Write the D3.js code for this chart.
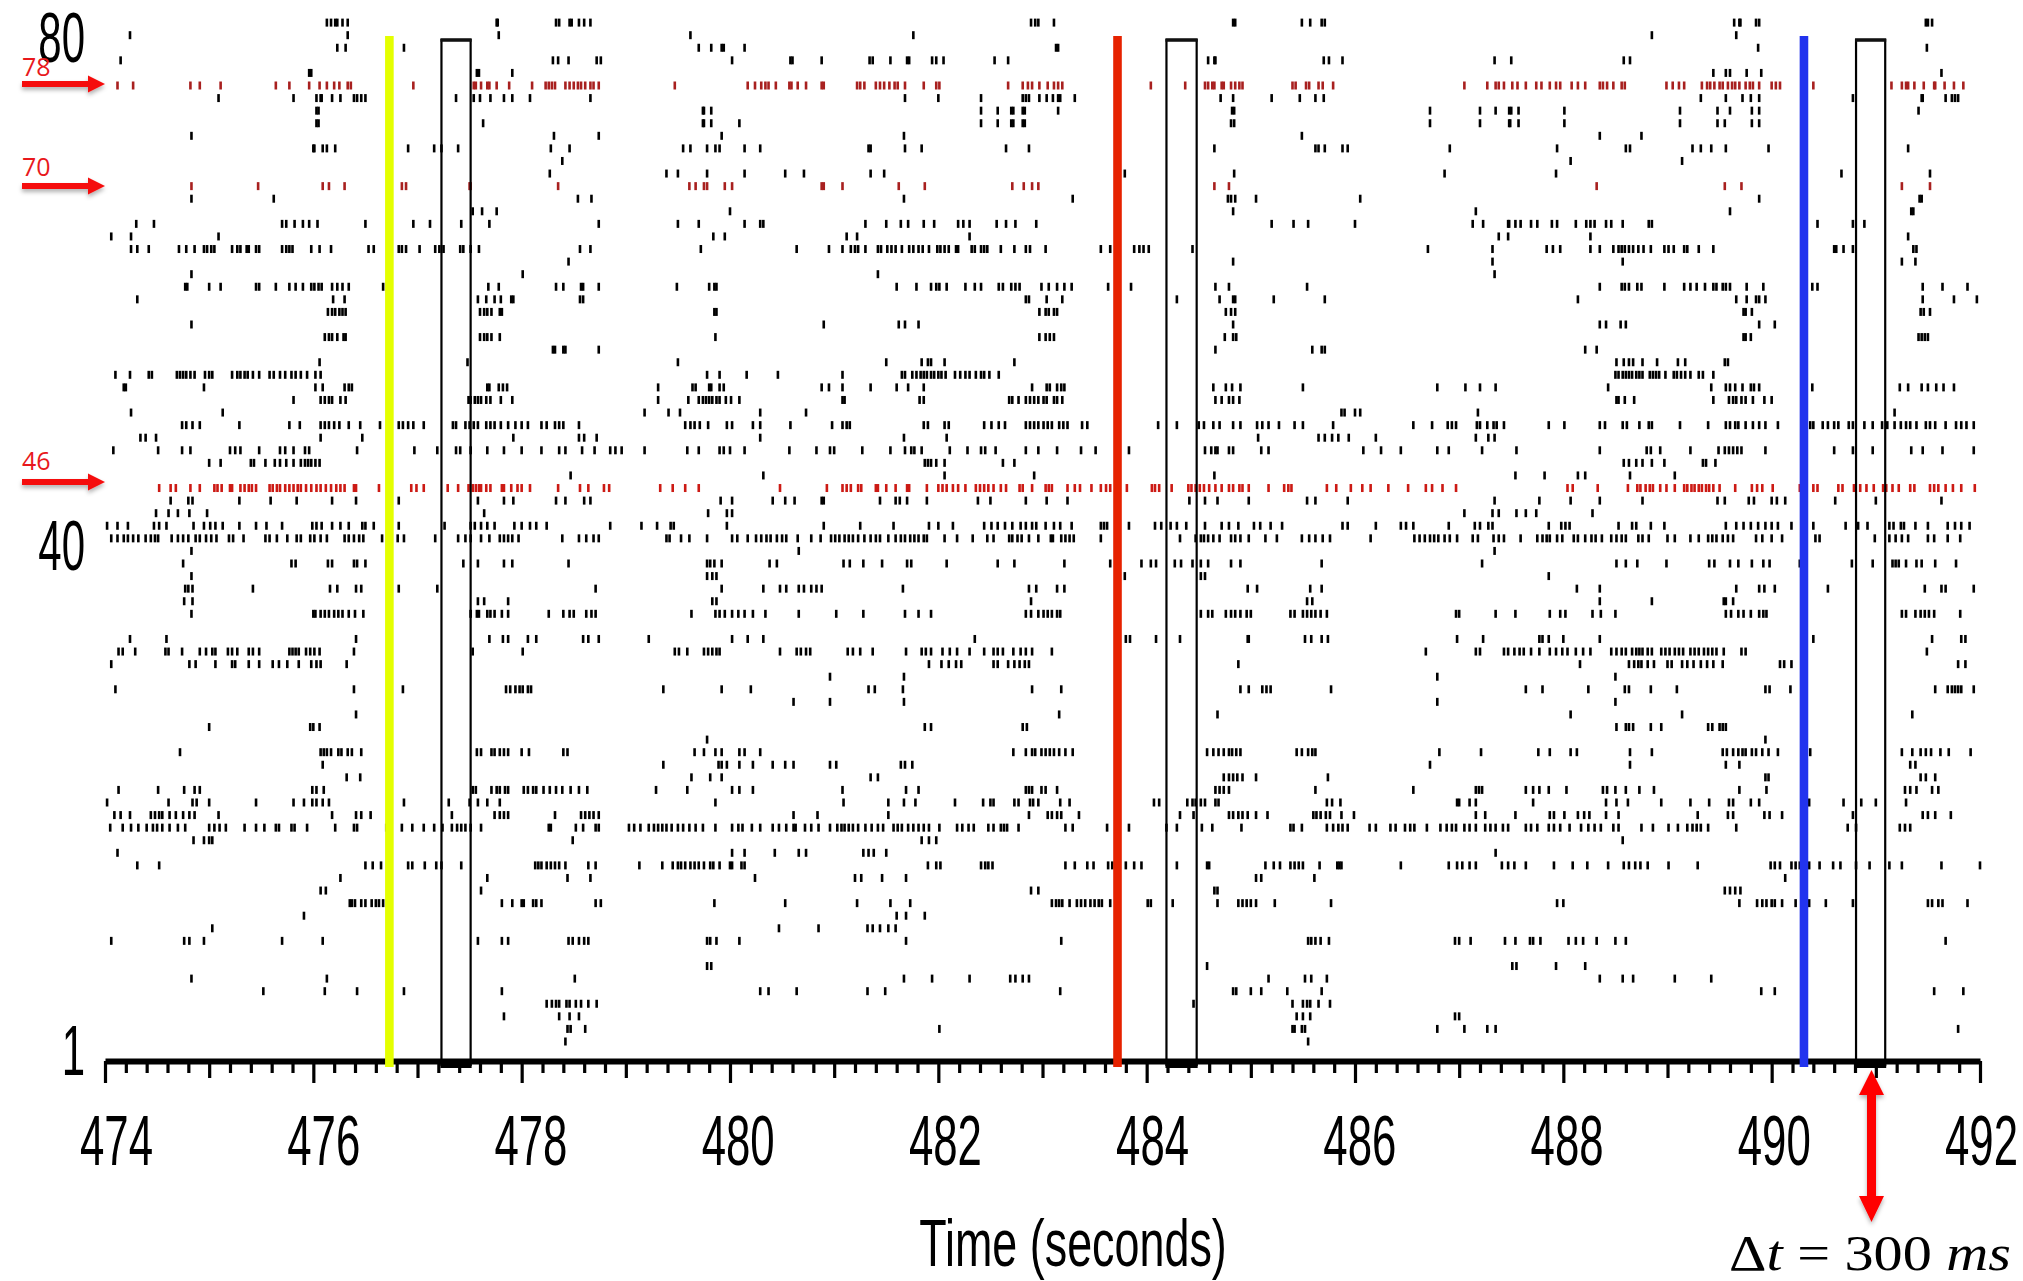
<!DOCTYPE html>
<html>
<head>
<meta charset="utf-8">
<script src="https://cdn.jsdelivr.net/npm/d3@7"></script>
<style>
  html, body { margin: 0; padding: 0; background: #fff; }
  svg { display: block; }
</style>
</head>
<body>
<div id="chart"></div>
<script>
// spike times in seconds, one list per channel
const row83 = [476.13,476.17,476.21,476.23,476.28,476.33,477.76,477.77,478.33,478.36,478.46,478.48,478.55,478.6,478.66,482.89,482.93,482.96,483.11,484.83,484.85,485.49,485.57,485.68,485.71,489.64,489.69,489.7,489.85,489.88,491.48,491.5,491.54];
const row82 = [474.24,476.33,477.78,479.62,481.76,488.85,489.66];
const row81 = [476.23,476.31,476.87,479.7,479.82,479.92,479.94,480.14,483.13,483.15,489.87,491.49];
const row80 = [474.15,478.3,478.35,478.45,478.72,478.76,480.02,480.58,480.6,480.88,481.34,481.37,481.54,481.7,481.72,481.94,481.98,482.05,482.54,482.67,484.59,484.65,484.66,485.7,485.75,485.88,487.34,487.5,488.58,488.64];
const row79 = [475.96,475.98,477.57,477.59,477.91,489.44,489.56,489.6,489.76,489.9,491.63];
const row78 = [474.12,474.27,474.82,474.91,475.11,475.64,475.77,475.96,476.06,476.13,476.2,476.25,476.33,476.36,476.96,477.54,477.56,477.61,477.67,477.69,477.76,477.88,478.1,478.23,478.26,478.29,478.32,478.42,478.46,478.5,478.54,478.57,478.61,478.66,478.69,478.74,479.47,480.17,480.24,480.3,480.34,480.37,480.44,480.57,480.59,480.65,480.73,480.88,480.9,481.22,481.25,481.29,481.4,481.44,481.48,481.53,481.58,481.61,481.68,481.86,481.98,482.01,482.67,482.81,482.86,482.9,482.97,483.05,483.11,483.15,483.19,484.04,484.37,484.56,484.59,484.63,484.65,484.72,484.74,484.81,484.85,484.89,484.92,485.4,485.43,485.53,485.56,485.65,485.69,485.79,487.05,487.27,487.35,487.38,487.43,487.51,487.56,487.64,487.74,487.79,487.87,487.93,487.97,488.08,488.14,488.21,488.35,488.38,488.42,488.48,488.56,488.59,488.99,489.05,489.11,489.16,489.33,489.38,489.41,489.45,489.5,489.53,489.58,489.62,489.65,489.69,489.75,489.79,489.82,489.88,490,490.04,490.08,490.4,491.15,491.25,491.29,491.31,491.37,491.46,491.56,491.57,491.66,491.75,491.84];
const row77 = [475.09,475.81,476.03,476.07,476.08,476.18,476.26,476.39,476.42,476.46,476.5,477.37,477.54,477.6,477.7,477.83,477.91,478.08,478.66,481.68,482,482.41,482.81,482.84,482.87,482.97,483.04,483.1,483.15,483.17,483.31,484.71,484.83,485.2,485.47,485.62,485.7,489.32,489.56,489.72,489.8,489.88,490.78,491.44,491.45,491.67,491.73,491.76,491.79];
const row76 = [476.03,476.05,479.74,479.75,479.82,482.41,482.57,482.7,482.72,482.81,482.83,483.15,484.82,484.84,486.72,487.2,487.35,487.48,487.5,487.57,488.01,489.12,489.48,489.6,489.81,489.88,491.41];
const row75 = [476.03,476.05,477.63,479.74,479.75,479.82,480.09,482.41,482.57,482.7,482.72,482.81,482.83,484.81,484.84,486.72,487.2,487.48,487.49,487.57,488.01,489.12,489.48,489.55,489.81,489.88];
const row74 = [474.83,478.31,478.74,479.92,481.67,485.49,488.35,488.75];
const row73 = [476,476.01,476.09,476.13,476.21,476.91,477.16,477.23,477.39,478.28,478.46,479.55,479.62,479.78,479.86,479.9,480.14,480.29,481.33,481.35,481.68,481.84,482.65,482.87,484.65,485.62,485.65,485.71,485.88,485.93,486.91,487.94,488.6,488.64,489.24,489.32,489.42,489.56,489.97,491.31];
const row72 = [478.39,488.07,489.14];
const row71 = [478.27,479.39,479.5,479.78,480.14,480.53,480.71,481.35,481.48,483.79,484.84,486.86,487.93,490.67,491.52];
const row70 = [474.83,475.47,476.09,476.15,476.3,476.85,476.89,477.5,477.51,478.35,479.61,479.67,479.75,479.78,479.95,480.02,480.88,480.9,481.08,481.62,481.87,482.71,482.82,482.9,482.96,484.65,484.79,488.32,489.55,489.71,491.25,491.52];
const row69 = [474.83,475.62,478.54,478.67,481.67,483.29,484.78,484.81,484.85,485.05,486.05,489.88,491.42,491.44];
const row68 = [477.53,477.62,477.76,480,484.83,487.16,489.6,491.34,491.36];
const row67 = [474.3,474.47,475.7,475.74,475.82,475.9,475.96,476.04,476.5,476.96,477.12,477.42,477.69,478.74,479.5,479.7,480.14,480.29,480.32,481.3,481.5,481.64,481.71,481.86,481.96,482.19,482.24,482.3,482.56,482.65,482.74,482.94,485.2,485.41,485.55,486,487.13,487.23,487.47,487.48,487.54,487.59,487.69,487.75,487.89,487.94,488.12,488.22,488.26,488.3,488.41,488.46,488.57,488.82,488.85,490.44,490.78,490.89];
const row66 = [474.06,474.25,475.09,479.84,479.95,481.12,481.22,482.3,487.38,487.47,488.26,491.31];
const row65 = [474.25,474.31,474.42,474.71,474.78,474.86,474.95,474.98,475.02,475.05,475.22,475.27,475.3,475.36,475.38,475.45,475.48,475.7,475.74,475.77,475.8,475.98,476.06,476.17,476.53,476.58,476.82,476.85,476.89,477.02,477.17,477.21,477.25,477.41,477.44,477.51,477.59,478.56,478.66,479.72,480.64,480.95,481.08,481.16,481.2,481.23,481.3,481.42,481.45,481.51,481.55,481.59,481.65,481.72,481.76,481.81,481.85,481.91,481.99,482.02,482.06,482.1,482.17,482.19,482.32,482.35,482.41,482.44,482.47,482.6,482.73,482.84,482.88,483.03,483.56,483.65,483.88,483.93,483.97,484.02,484.44,486.7,487.32,487.84,487.9,487.97,488.26,488.35,488.48,488.53,488.56,488.59,488.63,488.67,488.72,488.77,488.84,488.97,489.01,489.06,489.16,489.19,489.3,489.44,490.6,490.62,490.69,490.78,491.36,491.39];
const row64 = [478.45,484.83,487.32,488.57,491.25,491.38];
const row63 = [474.83,478.01,481.42,487.34];
const row62 = [474.77,474.79,475,475.11,475.45,475.48,475.64,475.77,475.83,475.9,475.98,476.01,476.05,476.08,476.18,476.23,476.28,476.34,476.67,477.68,477.78,478.33,478.4,478.57,478.59,478.74,479.49,479.8,479.85,479.87,481.6,481.79,481.93,481.98,482.01,482.08,482.26,482.35,482.41,482.58,482.62,482.7,482.74,482.78,482.99,483.06,483.14,483.21,483.28,483.63,483.85,484.66,484.79,485.54,488.35,488.56,488.59,488.63,488.71,488.75,488.97,489.16,489.22,489.28,489.36,489.44,489.47,489.53,489.56,489.6,489.76,489.92,490.39,490.44,491.45,491.64,491.88];
const row61 = [474.31,476.19,476.3,477.58,477.66,477.74,477.8,477.9,477.92,478.56,478.59,482.84,482.87,483.04,483.19,484.29,484.7,484.83,484.85,485.22,485.71,488.14,489.66,489.76,489.85,489.88,489.94,491.45,491.75,491.97];
const row60 = [476.14,476.18,476.21,476.25,476.28,476.31,477.6,477.64,477.67,477.71,477.79,477.81,479.85,479.87,482.97,483.03,483.06,483.11,483.14,484.76,484.81,484.85,489.73,489.75,489.81,491.43,491.46,491.52];
const row59 = [474.83,480.9,481.62,481.68,481.81,484.83,488.35,488.41,488.55,488.6,489.88,490.03];
const row58 = [476.11,476.15,476.18,476.23,476.29,476.31,477.6,477.64,477.67,477.71,477.79,479.86,482.97,483.03,483.07,483.11,484.75,484.83,484.86,489.73,489.75,489.8,491.41,491.44,491.47,491.5];
const row57 = [478.3,478.32,478.4,478.42,478.74,484.66,485.59,485.68,485.71,488.21,488.32];
const row56 = [476.06,477.48,479.5,481.5,481.84,481.9,481.93,482.06,482.73,488.51,488.58,488.63,488.67,488.76,488.9,489.1,489.17,489.55,489.58];
const row55 = [474.1,474.24,474.42,474.45,474.69,474.72,474.75,474.78,474.82,474.86,474.96,475,475.03,475.22,475.27,475.3,475.34,475.37,475.42,475.48,475.58,475.62,475.68,475.73,475.79,475.83,475.88,475.94,476.02,476.07,479.78,479.9,480.16,480.46,481.08,481.65,481.68,481.75,481.79,481.83,481.86,481.89,481.93,481.96,482,482.03,482.07,482.16,482.21,482.26,482.3,482.36,482.41,482.44,482.49,482.58,488.5,488.53,488.57,488.6,488.63,488.66,488.7,488.73,488.76,488.83,488.86,488.89,488.92,488.98,489.06,489.09,489.13,489.17,489.22,489.3,489.34,489.44];
const row54 = [474.18,474.2,474.95,476.02,476.09,476.3,476.34,476.37,477.67,477.69,477.78,477.82,477.86,479.31,479.64,479.67,479.8,479.82,479.9,479.94,480.88,480.95,481.08,481.35,481.6,481.71,481.86,482.9,483.04,483.07,483.14,483.18,483.21,484.64,484.76,484.82,484.9,485.5,486.79,487.06,487.2,487.35,488.43,489.42,489.56,489.6,489.65,489.72,489.8,489.83,489.88,490.39,491.23,491.31,491.44,491.5,491.58,491.65,491.75];
const row53 = [475.81,476.07,476.11,476.15,476.18,476.26,476.31,477.49,477.51,477.55,477.58,477.61,477.66,477.7,477.8,477.91,479.31,479.6,479.7,479.74,479.77,479.8,479.83,479.87,479.9,479.96,480.01,480.09,481.08,481.1,481.82,481.86,482.68,482.71,482.77,482.84,482.88,482.92,482.96,483.01,483.04,483.11,483.14,483.19,484.66,484.72,484.79,484.83,484.89,488.51,488.53,488.59,488.68,489.44,489.59,489.63,489.66,489.71,489.75,489.82,489.93,490];
const row52 = [474.25,475.13,479.18,479.41,479.52,480.29,480.73,485.87,485.9,486,486.05,487.18,491.18];
const row51 = [474.74,474.78,474.84,474.91,475.29,475.77,475.87,476.07,476.11,476.15,476.2,476.25,476.34,476.45,476.64,476.82,476.86,476.91,476.96,477.06,477.34,477.37,477.46,477.5,477.54,477.58,477.66,477.7,477.74,477.8,477.87,477.94,478,478.06,478.19,478.24,478.32,478.36,478.4,478.55,479.57,479.62,479.66,479.71,479.79,479.97,480.02,480.22,480.29,480.58,480.98,481.08,481.12,481.15,481.86,481.9,482.06,482.1,482.44,482.51,482.58,482.64,482.84,482.88,482.92,482.96,483.01,483.05,483.09,483.16,483.2,483.24,483.38,483.43,484.11,484.29,484.5,484.55,484.64,484.7,484.83,484.9,485.06,485.11,485.17,485.27,485.42,485.5,485.79,486.56,486.74,486.89,486.93,486.97,487.17,487.2,487.27,487.33,487.36,487.43,487.86,488.01,488.35,488.4,488.57,488.61,488.73,488.82,488.85,489.12,489.39,489.56,489.6,489.65,489.68,489.75,489.82,489.88,489.94,490.06,490.37,490.4,490.49,490.54,490.6,490.64,490.74,490.78,490.89,490.97,491.06,491.11,491.18,491.24,491.29,491.33,491.39,491.48,491.52,491.57,491.67,491.77,491.82,491.87,491.94];
const row50 = [474.34,474.39,474.49,476.07,476.47,477.92,478.55,478.6,478.72,480.29,481.67,482.08,485.07,485.65,485.71,485.78,485.84,485.94,486.2,487.16,487.28,487.34];
const row49 = [474.08,474.51,474.74,474.82,475.2,475.25,475.3,475.48,475.68,475.73,475.81,475.92,475.96,476.42,476.97,477.19,477.37,477.41,477.51,477.67,477.83,478,478.19,478.36,478.42,478.58,478.7,478.85,478.9,478.96,479.18,479.59,479.7,479.9,479.94,480,480.14,480.57,480.83,480.96,481,481.27,481.54,481.68,481.74,481.77,481.84,482.11,482.28,482.41,482.45,482.55,482.84,482.96,483.14,483.37,483.51,483.83,484.56,484.62,484.66,484.68,484.79,484.83,485.1,485.17,486.08,486.25,486.44,486.79,486.9,487.22,487.55,488.35,488.8,488.84,488.93,489.22,489.49,489.55,489.59,489.63,489.67,489.71,489.94,490.6,490.78,490.97,491.34,491.45,491.64,491.94];
const row48 = [475,475.11,475.4,475.43,475.54,475.63,475.68,475.74,475.81,475.88,475.92,475.95,475.98,476.02,476.06,481.87,481.9,481.93,481.98,482.06,482.62,482.73,488.58,488.63,488.7,488.76,488.85,488.97,489.34,489.37,489.46];
const row47 = [478.47,480.32,482.06,482.92,484.65,487.54,487.82,488.14,488.21,488.64,489.07];
const row46 = [474.52,474.63,474.68,474.82,474.91,475.05,475.08,475.12,475.2,475.22,475.3,475.34,475.38,475.41,475.45,475.58,475.61,475.65,475.68,475.73,475.77,475.81,475.85,475.88,475.93,475.98,476.03,476.07,476.12,476.17,476.22,476.26,476.3,476.39,476.41,476.63,476.94,476.99,477.06,477.29,477.39,477.49,477.53,477.56,477.59,477.61,477.66,477.7,477.81,477.83,477.9,477.96,478,478.08,478.35,478.56,478.64,478.79,478.84,479.33,479.45,479.57,479.7,480.48,480.93,481.08,481.12,481.16,481.23,481.26,481.4,481.42,481.5,481.59,481.7,481.72,481.89,482,482.04,482.08,482.14,482.19,482.26,482.36,482.4,482.44,482.48,482.53,482.6,482.65,482.78,482.81,482.9,483.03,483.06,483.09,483.24,483.31,483.36,483.47,483.56,483.61,483.65,483.81,484.05,484.08,484.12,484.24,484.4,484.43,484.47,484.51,484.55,484.6,484.66,484.72,484.79,484.83,484.89,484.92,484.98,485.17,485.32,485.36,485.39,485.73,485.82,485.96,486.07,486.15,486.32,486.51,486.68,486.74,486.84,486.97,488.04,488.09,488.33,488.62,488.71,488.74,488.79,488.83,488.86,488.93,488.99,489.07,489.16,489.19,489.23,489.26,489.3,489.33,489.37,489.4,489.44,489.5,489.65,489.81,489.86,489.91,490.01,490.27,490.32,490.4,490.44,490.64,490.68,490.79,490.85,490.91,490.98,491.07,491.1,491.16,491.22,491.33,491.37,491.52,491.56,491.6,491.67,491.74,491.82,491.95];
const row45 = [474.63,474.8,474.84,475.29,475.59,475.84,476.18,476.41,476.82,477.58,477.83,477.92,478.33,478.42,478.6,478.66,479.91,480.02,480.41,480.53,480.62,480.88,480.9,481.44,481.59,481.63,481.7,481.89,482.38,482.5,482.84,483.04,483.24,484.41,484.56,484.68,484.98,485.54,485.62,485.93,487.34,487.77,488.07,488.35,488.76,489.48,489.55,489.78,489.83,490,490.05,490.13,490.61,491,491.63];
const row44 = [474.49,474.61,474.7,474.81,474.98,477.64,479.79,479.97,480.02,487.05,487.32,487.38,487.55,487.64,487.74,488.28];
const row43 = [474.02,474.12,474.22,474.47,474.52,474.59,474.85,474.95,475.01,475.06,475.13,475.29,475.45,475.55,475.7,475.99,476.03,476.08,476.18,476.26,476.34,476.47,476.5,476.58,476.82,477.26,477.51,477.55,477.61,477.67,477.74,477.93,478,478.08,478.14,478.24,478.85,479.15,479.3,479.43,479.46,479.97,480.9,481.25,481.57,481.91,482,482.14,482.44,482.51,482.57,482.64,482.71,482.79,482.84,482.9,482.94,483.03,483.11,483.17,483.28,483.56,483.59,483.62,483.83,484.08,484.14,484.23,484.29,484.38,484.56,484.72,484.79,484.88,485.03,485.09,485.19,485.3,485.88,485.93,486.2,486.44,486.49,486.56,486.9,487.15,487.2,487.28,487.32,487.86,487.98,488.02,488.06,488.53,488.66,488.7,488.84,488.97,489.56,489.66,489.73,489.8,489.87,489.94,490,490.06,490.19,490.4,490.71,490.83,490.92,491.13,491.17,491.24,491.27,491.38,491.5,491.69,491.76,491.82,491.9];
const row42 = [474.06,474.12,474.18,474.22,474.27,474.32,474.39,474.44,474.48,474.51,474.64,474.7,474.75,474.8,474.87,474.91,474.97,475.02,475.07,475.19,475.23,475.33,475.54,475.58,475.65,475.75,475.84,475.88,475.97,476.01,476.07,476.13,476.3,476.34,476.39,476.44,476.48,476.66,476.81,476.87,477.17,477.39,477.46,477.51,477.61,477.69,477.79,477.83,477.87,477.91,477.97,478.39,478.55,478.62,478.69,478.74,479.39,479.42,479.53,479.61,479.78,480.02,480.07,480.17,480.25,480.3,480.35,480.39,480.45,480.5,480.54,480.65,480.78,480.87,480.97,481.01,481.05,481.1,481.14,481.18,481.23,481.29,481.35,481.4,481.44,481.52,481.59,481.64,481.68,481.73,481.77,481.81,481.86,481.89,482.06,482.18,482.33,482.47,482.53,482.68,482.71,482.76,482.8,482.87,482.96,483.08,483.1,483.18,483.22,483.26,483.3,483.56,484.32,484.47,484.52,484.55,484.59,484.64,484.7,484.81,484.85,484.9,484.98,485.14,485.25,485.49,485.56,485.62,485.69,485.76,486.15,486.57,486.62,486.67,486.72,486.76,486.8,486.86,486.91,486.98,487.13,487.18,487.33,487.38,487.43,487.59,487.75,487.8,487.84,487.87,487.94,487.99,488.1,488.14,488.21,488.27,488.31,488.37,488.46,488.51,488.56,488.6,488.72,488.76,488.82,489,489.07,489.22,489.3,489.39,489.43,489.47,489.53,489.58,489.63,489.85,489.91,490,490.1,490.42,490.46,490.99,491.13,491.19,491.25,491.31,491.5,491.56,491.69,491.81];
const row41 = [474.83,480.66,487.34];
const row40 = [474.75,475.79,475.83,476.14,476.18,476.39,476.42,476.5,477.44,477.58,477.83,477.91,478.45,479.78,479.81,479.85,479.92,480.38,480.45,481.09,481.15,481.28,481.46,481.7,481.74,482.08,482.57,482.73,483.21,483.65,483.95,484.04,484.09,484.27,484.33,484.44,484.52,484.59,484.81,484.9,485.68,487.22,488.51,488.6,488.71,488.99,489.4,489.45,489.6,489.68,489.81,489.92,489.98,490.27,490.77,490.97,491.16,491.19,491.22,491.29,491.39,491.44,491.57,491.77];
const row39 = [474.83,479.78,479.83,479.87,483.79,484.52,484.56,487.86];
const row38 = [474.77,474.8,474.84,475.42,476.16,476.23,476.41,476.46,476.82,477.19,478.71,479.92,480.32,480.48,480.54,480.66,480.71,480.78,480.83,480.88,481.66,482.87,482.94,483.14,483.21,484.97,485.06,485.57,485.68,488.13,488.35,489.66,489.88,489.93,490.03,490.54,491.47,491.63,491.67,491.94];
const row37 = [474.76,474.84,477.58,477.64,477.87,479.83,479.87,482.89,485.54,485.59,488.35,488.85,489.54,489.56,489.63];
const row36 = [474.83,476,476.02,476.07,476.11,476.15,476.2,476.24,476.28,476.34,476.4,476.48,477.51,477.57,477.59,477.67,477.7,477.74,477.81,477.87,478.26,478.4,478.46,478.5,478.62,478.67,478.71,479.63,479.86,479.9,479.95,480.02,480.08,480.14,480.22,480.34,480.66,481.02,481.28,481.68,481.81,481.93,482.84,482.89,482.96,483.01,483.05,483.09,483.14,483.17,484.52,484.59,484.63,484.76,484.81,484.85,484.9,484.96,485,485.38,485.42,485.5,485.54,485.58,485.62,485.67,485.73,486.97,487,487.35,487.54,487.87,487.97,488.02,488.28,488.36,488.5,489.56,489.61,489.68,489.73,489.8,489.88,489.92,489.95,491.25,491.29,491.38,491.43,491.47,491.51,491.56,491.81];
const row34 = [474.24,474.59,476.41,477.69,477.82,477.87,478.06,478.14,478.59,478.64,478.74,479.22,480.02,480.17,480.32,482.35,483.8,483.84,484.09,484.32,484.97,484.98,485.52,485.58,485.68,485.74,486.98,487.23,487.77,487.8,487.86,488,488.35,490.4,491.54,491.82,491.86];
const row33 = [474.13,474.17,474.29,474.58,474.61,474.74,474.91,474.97,475.03,475.06,475.18,475.22,475.27,475.38,475.42,475.48,475.77,475.8,475.83,475.86,475.93,475.97,476.01,476.06,476.39,477.53,478.01,479.47,479.51,479.59,479.75,479.79,479.83,479.87,479.9,480.48,480.64,480.68,480.73,480.77,481.13,481.18,481.25,481.37,481.69,481.84,481.88,481.93,482.04,482.11,482.18,482.3,482.44,482.53,482.57,482.62,482.72,482.79,482.84,482.9,483.09,486.68,487.16,487.2,487.43,487.47,487.53,487.58,487.62,487.69,487.77,487.87,487.93,487.99,488.04,488.12,488.19,488.26,488.46,488.51,488.56,488.6,488.66,488.7,488.73,488.76,488.81,488.85,488.94,488.98,489.02,489.07,489.11,489.15,489.22,489.26,489.3,489.35,489.39,489.43,489.47,489.54,489.71,489.75,491.49];
const row32 = [474.06,474.81,474.87,475.06,475.22,475.25,475.38,475.48,475.61,475.67,475.75,475.86,475.98,476.03,476.07,476.32,481.91,482.03,482.1,482.17,482.22,482.53,482.57,482.67,482.73,482.78,482.83,482.87,484.88,488.16,488.63,488.68,488.72,488.75,488.81,488.87,489,489.04,489.14,489.19,489.25,489.32,489.38,489.44,489.53,490.08,490.12,490.19,491.79,491.86];
const row31 = [480.96,481.67,486.79,488.5];
const row30 = [474.1,476.39,476.86,477.85,477.89,477.94,477.98,478.01,478.06,478.09,479.36,479.92,480.2,481.33,481.39,481.66,482.9,483.18,484.9,484.98,485.11,485.15,485.19,485.77,487.64,487.8,488.24,488.59,488.63,488.84,489.09,489.94,489.98,490.18,491.57,491.69,491.73,491.76,491.79,491.82,491.94];
const row29 = [480.61,480.96,481.67,486.79,488.5];
const row28 = [476.41,483.16,484.68,488.07,489.14,491.35];
const row27 = [475,475.97,476,476.06,481.87,481.93,482.81,482.85,488.51,488.6,488.63,488.67,488.84,488.94,489.39,489.43,489.5,489.53,489.56];
const row26 = [479.78,489.94];
const row25 = [474.72,476.07,476.1,476.13,476.17,476.24,476.27,476.33,476.37,476.46,477.57,477.61,477.71,477.74,477.79,477.83,477.87,478,478.07,478.4,478.44,479.66,479.75,479.86,479.92,480.09,480.14,480.29,482.72,482.84,482.9,482.93,482.99,483.03,483.07,483.11,483.16,483.22,483.29,484.58,484.64,484.69,484.74,484.79,484.82,484.86,484.9,485.44,485.49,485.55,485.59,485.62,486.81,487.21,487.76,487.87,488.07,488.13,488.64,488.85,489.53,489.57,489.63,489.68,489.72,489.75,489.81,489.85,489.91,489.97,490.06,490.37,491.25,491.35,491.43,491.48,491.53,491.62,491.7,491.91];
const row24 = [476.09,479.36,479.89,479.92,479.97,480.09,480.22,480.41,480.53,480.61,480.96,481.02,481.64,481.68,481.75,486.72,488.64,489.56,489.69,491.33,491.38];
const row23 = [476.32,476.45,479.63,479.81,479.92,481.35,481.42,484.74,484.79,484.83,484.87,484.92,485.05,485.74,489.94,489.97,491.43,491.48,491.57];
const row22 = [474.13,474.51,474.76,474.86,474.91,475.99,476.03,476.1,477.53,477.56,477.71,477.76,477.79,477.84,477.87,478.02,478.06,478.11,478.14,478.21,478.27,478.33,478.39,478.47,478.55,478.63,479.29,479.59,480.02,480.09,480.22,481.08,481.69,481.81,482.84,482.87,482.9,482.99,483.03,483.14,484.66,484.7,484.74,484.79,485.62,486.56,487.16,487.19,487.22,487.64,487.71,487.77,487.86,488.03,488.38,488.42,488.5,488.6,488.73,488.87,489.69,489.95,491.28,491.33,491.39,491.54,491.6];
const row21 = [474.02,474.61,474.84,474.88,475,475.45,475.81,475.91,475.99,476.03,476.09,476.15,476.87,477.3,477.5,477.58,477.67,477.79,479.86,481.09,481.52,481.67,481.78,482.16,482.43,482.5,482.53,482.73,482.77,482.88,482.91,482.96,483.17,483.26,484.07,484.12,484.39,484.44,484.47,484.52,484.56,484.66,484.69,485.73,485.78,485.86,486.98,487,487.1,487.16,487.71,488.41,488.51,488.62,488.94,489.22,489.4,489.59,489.63,489.8,489.88,490.36,490.69,490.86,491,491.29];
const row20 = [474.09,474.15,474.24,474.44,474.48,474.52,474.55,474.62,474.68,474.75,474.81,474.86,475.09,476.18,476.41,476.46,476.55,477.33,477.74,477.79,477.83,477.87,478.32,478.57,478.61,478.65,478.69,478.74,480.61,480.84,481.52,482.87,483.05,483.09,483.14,483.18,483.35,484.32,484.45,484.79,484.83,484.88,484.92,484.97,485.05,485.16,485.6,485.63,485.67,485.72,485.76,485.87,485.99,487.16,487.25,487.54,487.87,487.91,488.01,488.14,488.2,488.25,488.41,488.53,489.29,489.58,489.63,489.93,489.98,490.1,490.78,491.45,491.5,491.57,491.72];
const row19 = [474.05,474.17,474.25,474.32,474.4,474.46,474.5,474.55,474.62,474.7,474.77,475,475.05,475.1,475.16,475.34,475.45,475.53,475.64,475.67,475.79,475.82,475.94,476.21,476.39,476.42,476.7,476.85,476.95,477.06,477.16,477.24,477.33,477.38,477.42,477.46,477.51,477.61,478.26,478.28,478.52,478.59,478.71,478.74,479.03,479.08,479.14,479.22,479.27,479.31,479.35,479.39,479.44,479.5,479.55,479.61,479.67,479.74,479.86,480.02,480.08,480.12,480.21,480.29,480.41,480.47,480.54,480.61,480.63,480.72,480.78,480.85,480.96,481.03,481.07,481.1,481.14,481.18,481.23,481.3,481.36,481.42,481.47,481.57,481.61,481.65,481.71,481.76,481.81,481.86,481.91,482.01,482.18,482.23,482.29,482.34,482.48,482.53,482.6,482.63,482.66,482.77,483.22,483.29,483.62,483.83,484.19,484.29,484.53,484.63,484.91,485.38,485.41,485.49,485.73,485.79,485.84,485.88,485.93,486.14,486.2,486.34,486.39,486.48,486.53,486.57,486.69,486.82,486.88,486.93,486.97,487.05,487.1,487.16,487.25,487.3,487.35,487.42,487.47,487.64,487.69,487.75,487.86,487.91,487.97,488.06,488.17,488.24,488.3,488.36,488.48,488.53,488.75,488.86,489.01,489.1,489.19,489.24,489.28,489.32,489.39,489.66,490.73,490.81,491.23,491.28,491.33];
const row18 = [474.85,474.95,475,475.03,478.49,481.84,481.91,481.98,488.57];
const row17 = [474.12,480.02,480.14,480.43,480.66,480.73,481.28,481.33,481.38,481.5,487.35];
const row16 = [474.31,474.52,476.5,476.57,476.65,476.91,476.95,477.07,477.18,477.23,477.42,478.13,478.16,478.19,478.24,478.28,478.32,478.36,478.42,478.64,478.71,479.13,479.35,479.45,479.5,479.53,479.57,479.62,479.66,479.7,479.75,479.81,479.84,479.9,480,480.02,480.11,480.14,481.9,481.98,482.02,482.41,482.45,482.48,482.52,483.22,483.31,483.43,483.49,483.63,483.67,483.8,483.88,483.95,484.29,484.58,484.6,485.14,485.22,485.28,485.38,485.42,485.46,485.5,485.66,485.83,485.85,485.87,486.44,486.9,486.98,487.03,487.1,487.16,487.41,487.47,487.53,487.64,487.91,488.09,488.23,488.43,488.58,488.63,488.69,488.74,488.81,489.01,489.29,489.99,490.03,490.08,490.19,490.23,490.27,490.32,490.36,490.46,490.59,490.66,490.81,490.94,491.13,491.25,491.63,492];
const row15 = [476.26,477.67,478.44,478.66,480.24,481.2,481.26,481.46,481.69,485.05,485.1,485.61,490.13];
const row14 = [476.07,476.12,477.61,482.89,482.96,484.65,484.68,489.55,489.6,489.65,489.7];
const row13 = [476.35,476.37,476.4,476.46,476.5,476.56,476.6,476.63,476.67,477.81,477.91,478,478.02,478.11,478.14,478.19,478.71,478.76,479.85,480.53,481.22,481.54,481.73,483.09,483.13,483.16,483.19,483.26,483.33,483.37,483.41,483.46,483.5,483.54,483.57,483.65,484.01,484.04,484.25,484.68,484.88,484.92,484.96,485,485.05,485.23,485.77,487.94,488,489.69,489.86,489.91,489.95,490,490.03,490.1,490.23,490.29,490.36,490.52,490.78,491.5,491.54,491.6,491.64,491.88];
const row12 = [475.91,481.6,481.69,481.87];
const row11 = [475.03,480.47,480.85,481.32,481.37,481.44,481.52,481.59];
const row10 = [474.06,474.76,474.81,474.95,475.7,476.09,477.58,477.81,477.87,478.45,478.49,478.55,478.6,478.64,479.78,479.81,479.87,480.09,481.69,483.18,485.55,485.58,485.62,485.67,485.75,486.96,487,487.11,487.44,487.54,487.68,487.71,487.78,488.05,488.12,488.19,488.32,488.5,488.6,491.67];
const row8 = [479.78,479.82,484.58,487.51,487.55,487.93,488.21];
const row7 = [474.83,476.13,478.51,481.67,481.94,482.3,482.69,482.74,482.81,482.87,485.17,485.52,485.58,485.73,488.35,488.57,488.67,489.07,489.42];
const row6 = [475.52,476.11,476.42,476.87,477.81,480.29,480.37,480.64,481.32,481.49,483.17,484.83,484.86,485,485.1,485.35,485.68,489.9,490.03,491.56,491.84];
const row5 = [478.24,478.29,478.33,478.36,478.43,478.46,478.52,478.57,478.64,478.72,484.45,485.4,485.5,485.54,485.57,485.65,485.76];
const row4 = [477.83,478.36,478.46,478.55,485.44,485.5,485.57,486.96,487];
const row3 = [478.44,478.47,478.61,482.01,485.4,485.42,485.49,485.52,486.79,487.05,487.27,487.35,491.79];
const row2 = [478.42,485.55];

const rowNames = [83,82,81,80,79,78,77,76,75,74,73,72,71,70,69,68,67,66,65,64,63,62,61,60,59,58,57,56,55,54,53,52,51,50,49,48,47,46,45,44,43,42,41,40,39,38,37,36,34,33,32,31,30,29,28,27,26,25,24,23,22,21,20,19,18,17,16,15,14,13,12,11,10,8,7,6,5,4,3,2];
const rowSpikes = [row83,row82,row81,row80,row79,row78,row77,row76,row75,row74,row73,row72,row71,row70,row69,row68,row67,row66,row65,row64,row63,row62,row61,row60,row59,row58,row57,row56,row55,row54,row53,row52,row51,row50,row49,row48,row47,row46,row45,row44,row43,row42,row41,row40,row39,row38,row37,row36,row34,row33,row32,row31,row30,row29,row28,row27,row26,row25,row24,row23,row22,row21,row20,row19,row18,row17,row16,row15,row14,row13,row12,row11,row10,row8,row7,row6,row5,row4,row3,row2];

const highlighted = [78, 70, 46];
const xLabels = [474, 476, 478, 480, 482, 484, 486, 488, 490, 492];
const yLabels = [80, 40, 1];
const marks = [476.73, 483.72, 490.31];
const markColours = ["#e4ff00", "#e62200", "#2233ee"];
const windowStarts = [477.23, 484.19, 490.81];
const windowEnds = [477.51, 484.48, 491.09];

const width = 2023, height = 1281;
const x = d3.scaleLinear().domain([474, 492]).range([105, 1980]);
const y = d3.scaleLinear().domain([78, 2]).range([85.5, 1041.5]);
// labels in the source don't sit on their ticks, so they get their own scales
const xLabelScale = d3.scaleLinear().domain([474, 492]).range([116, 1981]);
const yLabelScale = d3.scaleLinear().domain([80, 40, 1]).range([62, 570, 1075]);
const axisY = 1061;

const svg = d3.select("#chart").append("svg")
  .attr("width", width)
  .attr("height", height)
  .style("font-family", "'Liberation Sans', Arial, sans-serif");

const defs = svg.append("defs");
defs.append("filter").attr("id", "shadow")
  .attr("x", "-10%").attr("y", "-50%").attr("width", "120%").attr("height", "220%")
  .append("feDropShadow")
  .attr("dx", 0).attr("dy", 3).attr("stdDeviation", 2)
  .attr("flood-color", "#000").attr("flood-opacity", 0.3);

// SPIKES
const spikes = rowNames.flatMap((r, i) => rowSpikes[i].map(t => ({ row: r, t: t })));

svg.append("g").attr("class", "spikes")
  .selectAll("rect")
  .data(spikes)
  .enter()
  .append("rect")
  .attr("x", d => x(d.t) - 1.3)
  .attr("y", d => y(d.row) - 4)
  .attr("width", 2.6)
  .attr("height", 8)
  .attr("fill", d => {
    if (d.row === 46) return "#cc1a14";
    return highlighted.includes(d.row) ? "#a8201f" : "#000";
  });

// AXIS
const xAxis = d3.axisBottom(x)
  .tickValues(d3.range(474, 492.01, 0.2).map(d => +d.toFixed(1)))
  .tickFormat("")
  .tickSizeOuter(0);

const axisG = svg.append("g").attr("class", "xAxis")
  .attr("transform", `translate(0,${axisY})`)
  .call(xAxis);

axisG.select(".domain").attr("stroke", "#000").attr("stroke-width", 6);
axisG.selectAll(".tick line")
  .attr("stroke", "#000")
  .attr("stroke-width", 3.2)
  .attr("y2", d => {
    if (Math.abs(d % 2) < 0.01) return 22;
    return Math.abs(d % 1) < 0.01 ? 17 : 12;
  });

const xLabelAxis = d3.axisBottom(xLabelScale).tickValues(xLabels).tickSize(0);
const labelG = svg.append("g").attr("class", "xLabels")
  .attr("transform", "translate(0,1165)")
  .call(xLabelAxis);
labelG.select(".domain").remove();
labelG.selectAll("text")
  .attr("y", 0).attr("dy", 0)
  .attr("font-size", 70)
  .attr("font-family", "'Liberation Sans', Arial, sans-serif")
  .attr("fill", "#000")
  .attr("transform", "scale(0.625,1)");

svg.append("g").attr("class", "yLabels")
  .selectAll("text")
  .data(yLabels)
  .enter()
  .append("text")
  .attr("transform", d => `translate(85,${yLabelScale(d)}) scale(0.6,1)`)
  .attr("text-anchor", "end")
  .attr("font-size", 70)
  .text(d => d);

svg.append("text")
  .attr("transform", "translate(1073,1266) scale(0.68,1)")
  .attr("text-anchor", "middle")
  .attr("font-size", 66)
  .text("Time (seconds)");

// COLOURED MARKERS AND WINDOWS
svg.append("g").attr("class", "marks")
  .selectAll("rect")
  .data(marks)
  .enter()
  .append("rect")
  .attr("x", d => x(d) - 4.3)
  .attr("y", 36)
  .attr("width", 8.6)
  .attr("height", 1031)
  .attr("fill", (d, i) => markColours[i]);

const win = svg.append("g").attr("class", "windows")
  .selectAll("g")
  .data(windowStarts)
  .enter()
  .append("g");

win.append("rect")
  .attr("x", d => x(d))
  .attr("y", 40)
  .attr("width", (d, i) => x(windowEnds[i]) - x(d))
  .attr("height", 1025)
  .attr("fill", "none")
  .attr("stroke", "#000")
  .attr("stroke-width", 2.2);

win.append("line")
  .attr("x1", d => x(d) - 1)
  .attr("x2", (d, i) => x(windowEnds[i]) + 1)
  .attr("y1", 40).attr("y2", 40)
  .attr("stroke", "#111")
  .attr("stroke-width", 3.5);

win.append("line")
  .attr("x1", d => x(d) - 1)
  .attr("x2", (d, i) => x(windowEnds[i]) + 1)
  .attr("y1", 1066).attr("y2", 1066)
  .attr("stroke", "#000")
  .attr("stroke-width", 4);

// RED ANNOTATIONS
const arrowYs = [84, 186, 482];
const arrowLabelYs = [76, 176, 470];

svg.append("g").attr("class", "arrows")
  .selectAll("path")
  .data(highlighted)
  .enter()
  .append("path")
  .attr("filter", "url(#shadow)")
  .attr("fill", "#f50d0d")
  .attr("d", (d, i) => {
    const a = arrowYs[i];
    return `M22,${a - 3}H88V${a - 8.5}L105,${a}L88,${a + 8.5}V${a + 3}H22Z`;
  });

svg.append("g").attr("class", "arrowLabels")
  .selectAll("text")
  .data(highlighted)
  .enter()
  .append("text")
  .attr("x", 22)
  .attr("y", (d, i) => arrowLabelYs[i])
  .attr("font-family", "'Open Sans', 'Noto Sans', sans-serif")
  .attr("font-size", 25)
  .attr("fill", "#e8181c")
  .text(d => d);

// double headed arrow for the window width
svg.append("path")
  .attr("fill", "#ff0000")
  .attr("filter", "url(#shadow)")
  .attr("d", "M1871.5,1070L1884,1095H1876V1196H1884L1871.5,1222L1859,1196H1867V1095H1859Z");

const dt = svg.append("text")
  .attr("x", 1729)
  .attr("y", 1270)
  .attr("font-family", "'Liberation Serif', serif")
  .attr("font-size", 50)
  .attr("textLength", 282)
  .attr("lengthAdjust", "spacingAndGlyphs");
dt.append("tspan").text("Δ");
dt.append("tspan").attr("font-style", "italic").text("t");
dt.append("tspan").text(" = 300 ");
dt.append("tspan").attr("font-style", "italic").text("ms");
</script>
</body>
</html>
